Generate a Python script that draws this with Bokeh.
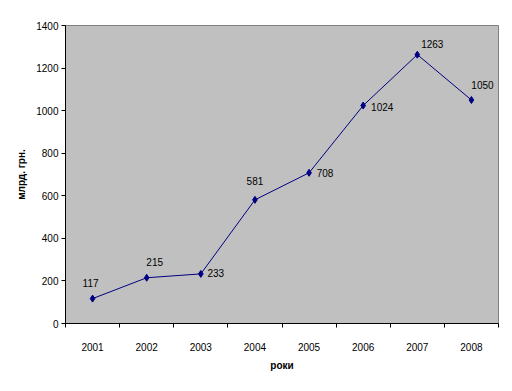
from bokeh.plotting import figure
from bokeh.models import ColumnDataSource, FixedTicker, Range1d
from bokeh.core.properties import value
from bokeh.embed import file_html
from bokeh.resources import INLINE

years = ["2001", "2002", "2003", "2004", "2005", "2006", "2007", "2008"]
values = [117, 215, 233, 581, 708, 1024, 1263, 1050]
y_ticks = [0, 200, 400, 600, 800, 1000, 1200, 1400]
y_title = "млрд. грн."
x_title = "роки"

# label placement (pixels) – styling only
lab_dx = [-2, 8, 15, 0, 16, 19, 15, 11]
lab_dy = [-16, -16, -1, -19, 0, 1, -11, -15]

n = len(years)
xs = [i + 0.5 for i in range(n)]

src = ColumnDataSource(dict(x=xs, y=values, lab=[str(v) for v in values], dx=lab_dx, dy=lab_dy))

FONT = "Liberation Sans"

p = figure(width=508, height=383, output_backend="svg", toolbar_location=None,
           x_range=Range1d(0, n), y_range=Range1d(0, 1400),
           min_border_left=65, min_border_top=25, min_border_right=10, min_border_bottom=60)
p.background_fill_color = "#C0C0C0"
p.border_fill_color = "white"
p.outline_line_color = "#808080"
p.grid.visible = False

p.line("x", "y", source=src, line_color="#000080", line_width=1)
p.scatter("x", "y", source=src, marker="diamond", size=7, fill_color="#000080", line_color="#000080")
p.text("x", "y", text="lab", source=src, x_offset="dx", y_offset="dy",
       text_align="center", text_baseline="middle", text_font=value(FONT),
       text_font_size="10px", text_color="black")

# x axis: labels at category centres, ticks at category boundaries
xt = FixedTicker(ticks=xs, minor_ticks=list(range(n + 1)))
p.xaxis.ticker = xt
p.xaxis.major_label_overrides = {x: y for x, y in zip(xs, years)}
p.xaxis.major_tick_out = 0
p.xaxis.major_tick_in = 0
p.xaxis.minor_tick_out = 4
p.xaxis.minor_tick_in = 0
p.xaxis.major_label_standoff = 15
p.xaxis.axis_label = x_title
p.xaxis.axis_label_standoff = 6

p.yaxis.ticker = FixedTicker(ticks=y_ticks, minor_ticks=[])
p.yaxis.major_tick_out = 4
p.yaxis.major_tick_in = 0
p.yaxis.minor_tick_out = 0
p.yaxis.minor_tick_in = 0
p.yaxis.major_label_standoff = 3
p.yaxis.axis_label = y_title
p.yaxis.axis_label_standoff = 6

for ax in (p.xaxis, p.yaxis):
    ax.axis_line_color = "black"
    ax.major_tick_line_color = "black"
    ax.minor_tick_line_color = "black"
    ax.major_label_text_font = FONT
    ax.major_label_text_font_size = "10px"
    ax.major_label_text_color = "black"
    ax.axis_label_text_font = FONT
    ax.axis_label_text_font_size = "10px"
    ax.axis_label_text_font_style = "bold"
    ax.axis_label_text_color = "black"

open("out.html", "w").write(file_html(p, INLINE))
